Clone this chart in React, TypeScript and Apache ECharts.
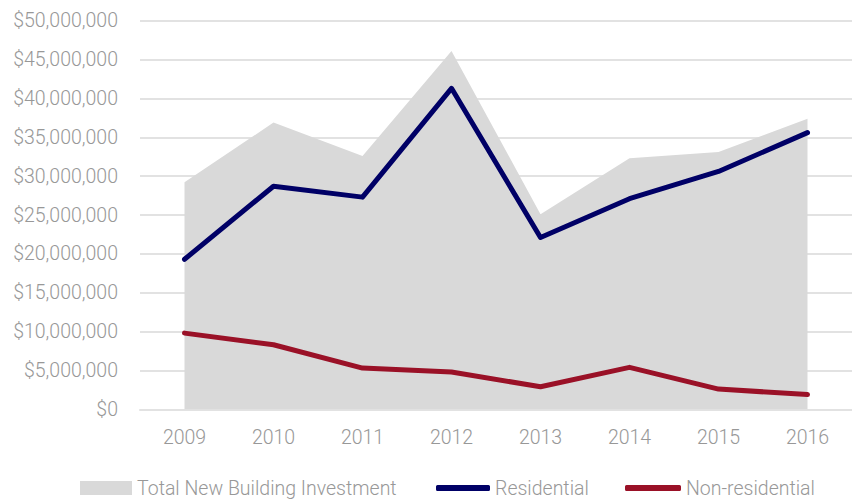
import React, { useEffect, useRef } from "react";
import * as echarts from "echarts";

const years = ["2009", "2010", "2011", "2012", "2013", "2014", "2015", "2016"];
const totalInvestment = [29200000, 36900000, 32600000, 46100000, 25100000, 32300000, 33100000, 37400000];
const residential = [19300000, 28700000, 27300000, 41300000, 22100000, 27100000, 30600000, 35600000];
const nonResidential = [9800000, 8300000, 5300000, 4800000, 2900000, 5400000, 2600000, 1900000];

const FONT = "Roboto";
const TEXT_COLOR = "#989898";
const FS = 19.5;

export default function App() {
  const ref = useRef<HTMLDivElement>(null);
  useEffect(() => {
    if (!ref.current) return;
    const chart = echarts.init(ref.current, null, { renderer: "svg" });
    const legendText = { color: TEXT_COLOR, fontSize: FS, fontFamily: FONT, fontWeight: 300 };
    chart.setOption({
      animation: false,
      grid: { left: 140, width: 720, top: 20.7, bottom: 90.7, containLabel: false },
      xAxis: {
        type: "category",
        data: years,
        boundaryGap: true,
        axisLine: { show: true, lineStyle: { color: "#e2e2e2", width: 2 } },
        axisTick: { show: false },
        axisLabel: { color: TEXT_COLOR, fontSize: FS, fontFamily: FONT, fontWeight: 300, margin: 18 },
      },
      yAxis: {
        type: "value",
        min: 0,
        max: 50000000,
        interval: 5000000,
        axisLine: { show: false },
        axisTick: { show: false },
        splitLine: { lineStyle: { color: "#e2e2e2", width: 2 } },
        axisLabel: {
          color: TEXT_COLOR,
          fontSize: FS,
          fontFamily: FONT,
          fontWeight: 300,
          margin: 22,
          formatter: (v: number) => "$" + v.toLocaleString("en-US"),
        },
      },
      legend: [
        {
          left: 80,
          top: 478,
          padding: 0,
          itemWidth: 52,
          itemHeight: 14,
          icon: "rect",
          textStyle: legendText,
          data: ["Total New Building Investment"],
        },
        {
          left: 436,
          top: 478,
          padding: 0,
          itemWidth: 54,
          itemHeight: 6,
          icon: "roundRect",
          textStyle: legendText,
          data: ["Residential"],
        },
        {
          left: 625,
          top: 478,
          padding: 0,
          itemWidth: 56,
          itemHeight: 6,
          icon: "roundRect",
          textStyle: legendText,
          data: ["Non-residential"],
        },
      ],
      series: [
        {
          name: "Total New Building Investment",
          type: "line",
          data: totalInvestment,
          symbol: "none",
          color: "#d9d9d9",
          lineStyle: { width: 0 },
          areaStyle: { color: "#d9d9d9", opacity: 1 },
        },
        {
          name: "Residential",
          type: "line",
          data: residential,
          symbol: "none",
          color: "#000066",
          lineStyle: { width: 5, color: "#000066", cap: "round", join: "round" },
        },
        {
          name: "Non-residential",
          type: "line",
          data: nonResidential,
          symbol: "none",
          color: "#9a1127",
          lineStyle: { width: 5, color: "#9a1127", cap: "round", join: "round" },
        },
      ],
    });
    return () => chart.dispose();
  }, []);
  return (
    <div
      ref={ref}
      style={{ position: "absolute", left: 0, top: 0, width: 852, height: 500 }}
    />
  );
}
